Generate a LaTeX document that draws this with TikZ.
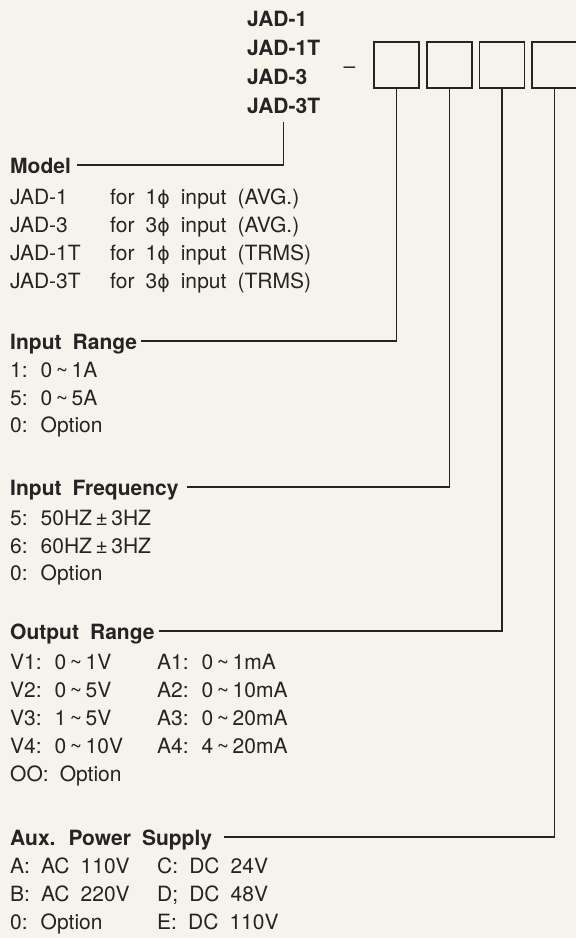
\documentclass[tikz,border=0pt]{standalone}
\usepackage{fontspec}
\setmainfont[WordSpace=1.9]{TeX Gyre Heros}
\newfontfamily\symfont[Scale=0.9]{DejaVu Sans}
\definecolor{bgpaper}{HTML}{F5F3EB}
\definecolor{ink}{HTML}{242424}
\newcommand\rng{\,\textasciitilde\,}
\newcommand\phisym{{\symfont ϕ}}
\tikzset{
  txt/.style={anchor=base west, inner sep=0pt, text=ink, font=\fontsize{21}{25}\selectfont},
  hdr/.style={txt, font=\fontsize{21}{25}\selectfont\bfseries},
  codebox/.style={draw=ink, line width=1.3pt, minimum width=45pt, minimum height=46pt, inner sep=0pt},
  wire/.style={draw=ink, line width=1.2pt}
}
\begin{document}
\begin{tikzpicture}[x=1pt, y=-1pt]
\fill[bgpaper] (0,0) rectangle (576,938);
\useasboundingbox (0,0) rectangle (576,938);

% top model list
\node[hdr] (j1) at (247,26) {JAD-1};
\node[hdr] (j2) at (247,55) {JAD-1T};
\node[hdr] (j3) at (247,84) {JAD-3};
\node[hdr] (j4) at (247,113) {JAD-3T};
\node[txt, anchor=base] (dash) at (349.5,73) {–};

% code boxes
\node[codebox] (b1) at (396.5,65) {};
\node[codebox] (b2) at (449.5,65) {};
\node[codebox] (b3) at (502,65) {};
\node[codebox] (b4) at (554.5,65) {};

% Model
\node[hdr] (hm) at (10,173) {Model};
\node[txt] (m1a) at (10,204) {JAD-1};
\node[txt] (m1b) at (110,204) {for 1\phisym{} input (AVG.)};
\node[txt] (m2a) at (10,232) {JAD-3};
\node[txt] (m2b) at (110,232) {for 3\phisym{} input (AVG.)};
\node[txt] (m3a) at (10,260) {JAD-1T};
\node[txt] (m3b) at (110,260) {for 1\phisym{} input (TRMS)};
\node[txt] (m4a) at (10,288) {JAD-3T};
\node[txt] (m4b) at (110,288) {for 3\phisym{} input (TRMS)};

% Input range
\node[hdr] (hir) at (10,349) {Input Range};
\node[txt] (ir1) at (10,377) {1: 0\rng1A};
\node[txt] (ir2) at (10,405) {5: 0\rng5A};
\node[txt] (ir3) at (10,432) {0: Option};

% Input frequency
\node[hdr] (hif) at (10,495) {Input Frequency};
\node[txt] (if1) at (10,525) {5: 50HZ\,±\,3HZ};
\node[txt] (if2) at (10,553) {6: 60HZ\,±\,3HZ};
\node[txt] (if3) at (10,580) {0: Option};

% Output range
\node[hdr] (hor) at (10,639) {Output Range};
\node[txt] (v1) at (10,669) {V1: 0\rng1V};
\node[txt] (a1) at (157,669) {A1: 0\rng1mA};
\node[txt] (v2) at (10,697) {V2: 0\rng5V};
\node[txt] (a2) at (157,697) {A2: 0\rng10mA};
\node[txt] (v3) at (10,725) {V3: 1\rng5V};
\node[txt] (a3) at (157,725) {A3: 0\rng20mA};
\node[txt] (v4) at (10,753) {V4: 0\rng10V};
\node[txt] (a4) at (157,753) {A4: 4\rng20mA};
\node[txt] (oo) at (10,781) {OO: Option};

% Aux power supply
\node[hdr] (hap) at (10,845) {Aux. Power Supply};
\node[txt] (pa) at (10,873) {A: AC 110V};
\node[txt] (pc) at (157,873) {C: DC 24V};
\node[txt] (pb) at (10,901) {B: AC 220V};
\node[txt] (pd) at (157,901) {D; DC 48V};
\node[txt] (po) at (10,929) {0: Option};
\node[txt] (pe) at (157,929) {E: DC 110V};

% connectors
\draw[wire] ([yshift=-9pt]j4.south) |- ([xshift=6pt,yshift=8pt]hm.base east);
\draw[wire] (b1.south) |- ([xshift=4pt,yshift=8pt]hir.base east);
\draw[wire] (b2.south) |- ([xshift=8pt,yshift=8pt]hif.base east);
\draw[wire] (b3.south) |- ([xshift=4pt,yshift=8pt]hor.base east);
\draw[wire] (b4.south) |- ([xshift=12pt,yshift=8pt]hap.base east);
\end{tikzpicture}
\end{document}
